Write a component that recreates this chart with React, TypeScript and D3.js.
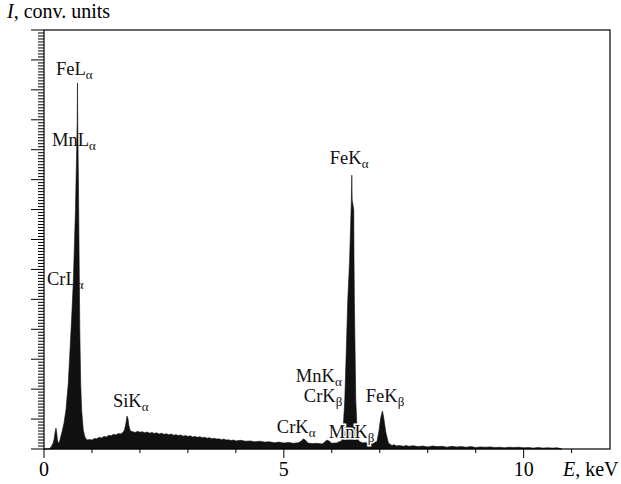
import React from "react";
import * as d3 from "d3";

// Spectrum: [energy keV, intensity conv. units]
const lPeaks: [number, number][] = [
  [0, 0], [0.1, 0], [0.15, 0.7], [0.19, 2], [0.21, 3.2], [0.23, 5.5], [0.25, 7],
  [0.265, 5.5], [0.28, 3], [0.3, 2], [0.32, 2.2], [0.348, 4.0], [0.38, 6],
  [0.417, 8.7], [0.458, 13], [0.506, 22], [0.542, 33], [0.577, 44], [0.61, 55.5],
  [0.631, 66.5], [0.656, 80], [0.677, 96.6], [0.692, 109], [0.698, 122.3],
  [0.704, 109], [0.719, 87.5], [0.733, 63], [0.746, 40], [0.765, 22], [0.785, 13],
  [0.819, 6.3], [0.854, 4], [0.896, 3],
];
const continuumLow: [number, number][] = [
  [0.95, 3.2], [1.0, 3.0], [1.05, 3.5], [1.1, 3.4], [1.15, 3.9], [1.2, 3.7],
  [1.25, 4.2], [1.3, 4.0], [1.35, 4.6], [1.4, 4.4], [1.45, 4.9], [1.5, 4.7],
  [1.55, 5.2], [1.6, 5.0], [1.65, 5.6],
];
const siPeak: [number, number][] = [
  [1.68, 6.5], [1.71, 8.8], [1.73, 11], [1.75, 10.2], [1.77, 7.8], [1.8, 6.0],
];
const continuumMid: [number, number][] = [
  [1.85, 5.8], [1.9, 5.5], [1.95, 5.9], [2.0, 5.6], [2.05, 5.8], [2.1, 5.4],
  [2.15, 5.7], [2.2, 5.3], [2.25, 5.5], [2.3, 5.2], [2.35, 5.4], [2.4, 5.0],
  [2.45, 5.3], [2.5, 4.9], [2.55, 5.1], [2.6, 4.8], [2.65, 5.0], [2.7, 4.6],
  [2.75, 4.8], [2.8, 4.5], [2.85, 4.7], [2.9, 4.3], [2.95, 4.5], [3.0, 4.2],
  [3.05, 4.4], [3.1, 4.0], [3.15, 4.2], [3.2, 3.9], [3.25, 4.1], [3.3, 3.8],
  [3.35, 3.9], [3.4, 3.6], [3.45, 3.8], [3.5, 3.4], [3.55, 3.6], [3.6, 3.3],
  [3.65, 3.4], [3.7, 3.1], [3.75, 3.3], [3.8, 3.0], [3.85, 3.1], [3.9, 2.8],
  [3.95, 3.0], [4.0, 2.7], [4.1, 2.9], [4.2, 2.6], [4.3, 2.7], [4.4, 2.4],
  [4.5, 2.6], [4.6, 2.3], [4.7, 2.4], [4.8, 2.1], [4.9, 2.3], [5.0, 2.0],
  [5.1, 2.2], [5.2, 1.9], [5.3, 2.1],
];
const crMnK: [number, number][] = [
  [5.36, 2.6], [5.41, 3.4], [5.46, 2.8], [5.5, 2.0], [5.6, 1.8], [5.7, 1.9],
  [5.8, 1.7], [5.85, 2.3], [5.9, 3.0], [5.95, 2.6], [6.0, 1.9], [6.05, 2.0],
  [6.1, 2.0], [6.15, 2.4], [6.2, 2.6],
];
const feKaPeak: [number, number][] = [
  [6.235, 6.3], [6.271, 16.4], [6.302, 33], [6.333, 49.8], [6.371, 63.1],
  [6.396, 76.5], [6.408, 83.2], [6.417, 91.5], [6.425, 83.2], [6.458, 79.9],
  [6.4625, 64.8], [6.471, 49.8], [6.485, 33], [6.5, 16.4], [6.527, 6.3],
  [6.5625, 2.7], [6.6, 2.3], [6.65, 2.0], [6.7, 2.2], [6.75, 1.8], [6.8, 2.1],
  [6.85, 1.9], [6.9, 2.3],
];
const feKbPeak: [number, number][] = [
  [6.94, 2.4], [6.98, 5.7], [7.02, 10.4], [7.056, 12.7], [7.083, 10.4],
  [7.125, 5.7], [7.18, 2.0],
];
const continuumHigh: [number, number][] = [
  [7.25, 1.2], [7.3, 1.4], [7.35, 1.0], [7.4, 1.2], [7.5, 0.9], [7.55, 1.2],
  [7.6, 0.9], [7.7, 1.1], [7.8, 0.8], [7.9, 1.0], [8.0, 0.7], [8.1, 1.0],
  [8.2, 0.8], [8.3, 0.9], [8.4, 0.6], [8.5, 0.9], [8.6, 0.7], [8.7, 0.8],
  [8.8, 0.6], [8.9, 0.8], [9.0, 0.5], [9.1, 0.7], [9.2, 0.6], [9.3, 0.7],
  [9.4, 0.5], [9.5, 0.6], [9.6, 0.4], [9.7, 0.6], [9.8, 0.5], [9.9, 0.6],
  [10.0, 0.4], [10.1, 0.5], [10.2, 0.3], [10.3, 0.5], [10.4, 0.3], [10.5, 0.4],
  [10.6, 0.3], [10.7, 0.4], [10.75, 0.2], [10.8, 0],
];

const xTickLabels = [0, 5, 10];
const xMinorTicks = [0, 1, 2, 3, 4, 5, 6, 7, 8, 9, 10, 11];

// Peak labels: main text, subscript, anchor (energy, intensity)
const peakLabels = [
  { main: "FeL", sub: "α", e: 0.25, v: 125 },
  { main: "MnL", sub: "α", e: 0.167, v: 101.2 },
  { main: "CrL", sub: "α", e: 0.0625, v: 54.8 },
  { main: "SiK", sub: "α", e: 1.4375, v: 14 },
  { main: "FeK", sub: "α", e: 5.958, v: 95.2 },
  { main: "MnK", sub: "α", e: 5.25, v: 22.4 },
  { main: "CrK", sub: "β", e: 5.417, v: 15.7 },
  { main: "FeK", sub: "β", e: 6.708, v: 15.7 },
  { main: "CrK", sub: "α", e: 4.854, v: 5.35 },
  { main: "MnK", sub: "β", e: 5.9375, v: 3.7 },
];

const W = 621;
const H = 484;
const L = 44, R = 610, T = 30, B = 449;
const FONT = "'Liberation Serif', 'Times New Roman', serif";

export default function App() {
  const spectrum = [
    ...lPeaks, ...continuumLow, ...siPeak, ...continuumMid, ...crMnK,
    ...feKaPeak, ...feKbPeak, ...continuumHigh,
  ];
  const x = d3.scaleLinear().domain([0, 11.8]).range([L, R]);
  const y = d3.scaleLinear().domain([0, 140]).range([B, T]);
  const area = d3
    .area<[number, number]>()
    .x((d) => x(d[0]))
    .y0(y(0))
    .y1((d) => y(d[1]));
  const yMinor = d3.range(0, 141, 1);

  return (
    <svg
      width={W}
      height={H}
      style={{ position: "absolute", left: 0, top: 0, background: "#fff" }}
      fontFamily={FONT}
    >
      <rect x={0} y={0} width={W} height={H} fill="#fff" />
      <path d={area(spectrum) || ""} fill="#111" stroke="#111" strokeWidth={0.6} />
      {/* frame */}
      <rect x={L} y={T} width={R - L} height={B - T} fill="none" stroke="#000" strokeWidth={1.2} />
      {/* y ticks */}
      {yMinor.map((v) => (
        <line
          key={"y" + v}
          x1={L - (v % 10 === 0 ? 13 : 6)}
          x2={L}
          y1={y(v)}
          y2={y(v)}
          stroke="#000"
          strokeWidth={1}
        />
      ))}
      {/* x ticks */}
      {xMinorTicks.map((t) => (
        <line
          key={"x" + t}
          x1={x(t)}
          x2={x(t)}
          y1={B}
          y2={B + (t % 5 === 0 ? 9 : 4)}
          stroke="#000"
          strokeWidth={1}
        />
      ))}
      {xTickLabels.map((t) => (
        <text key={"xl" + t} x={x(t)} y={476} textAnchor="middle" fontSize={20}>
          {t}
        </text>
      ))}
      <text x={563} y={476} fontSize={20}>
        <tspan fontStyle="italic">E</tspan>, keV
      </text>
      <text x={7} y={18} fontSize={20}>
        <tspan fontStyle="italic">I</tspan>, conv. units
      </text>
      {peakLabels.map((p, i) => (
        <text
          key={"pl" + i}
          x={x(p.e)}
          y={y(p.v)}
          fontSize={18.5}
          stroke={p.main === "MnK" && p.sub === "β" ? "#fff" : "none"}
          strokeWidth={3}
          paintOrder="stroke"
          fill="#111"
        >
          {p.main}
          <tspan fontSize={13} dy={4}>
            {p.sub}
          </tspan>
        </text>
      ))}
    </svg>
  );
}
